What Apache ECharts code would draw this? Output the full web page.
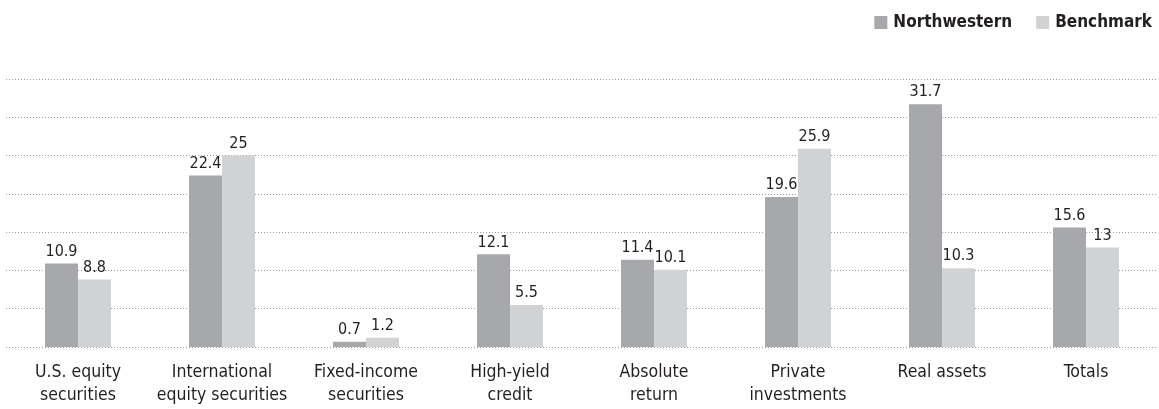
<!DOCTYPE html>
<html><head><meta charset="utf-8">
<script src="https://cdn.jsdelivr.net/npm/echarts@6/dist/echarts.min.js"></script>
<style>html,body{margin:0;padding:0;background:#fff}#c{width:1159px;height:409px}</style>
</head><body><div id="c"></div>
<script>
const categories = ["U.S. equity\nsecurities","International\nequity securities","Fixed-income\nsecurities","High-yield\ncredit","Absolute\nreturn","Private\ninvestments","Real assets","Totals"];
const northwestern = [10.9, 22.4, 0.7, 12.1, 11.4, 19.6, 31.7, 15.6];
const benchmark = [8.8, 25, 1.2, 5.5, 10.1, 25.9, 10.3, 13];
const FONT = '"Liberation Sans Narrow","DejaVu Sans Condensed","Roboto",sans-serif';
const chart = echarts.init(document.getElementById('c'));
const lbl = {show:true, position:'top', distance:4, color:'#231f20', fontSize:16, fontFamily:FONT};
chart.setOption({
  animation:false,
  legend:{top:9, right:2, itemWidth:13, itemHeight:13, itemGap:24, icon:'rect',
    textStyle:{fontFamily:FONT, fontWeight:'bold', fontSize:17, color:'#231f20', padding:[0,0,0,1]}},
  grid:{left:6, right:1, top:79, bottom:62, containLabel:false},
  xAxis:{type:'category', data:categories, axisTick:{show:false}, axisLine:{show:false},
    axisLabel:{fontFamily:FONT, fontSize:17.5, color:'#231f20', lineHeight:23, margin:14, interval:0}},
  yAxis:{type:'value', min:0, max:35, interval:5, axisLabel:{show:false}, axisLine:{show:false}, axisTick:{show:false},
    splitLine:{lineStyle:{type:[1,2], color:'#9a9a9a', width:1}}},
  series:[
    {name:'Northwestern', type:'bar', data:northwestern, barWidth:33, barGap:'0%', itemStyle:{color:'#a7a8ab'}, label:lbl},
    {name:'Benchmark', type:'bar', data:benchmark, barWidth:33, itemStyle:{color:'#d1d2d4'}, label:lbl}
  ]
});
</script></body></html>
